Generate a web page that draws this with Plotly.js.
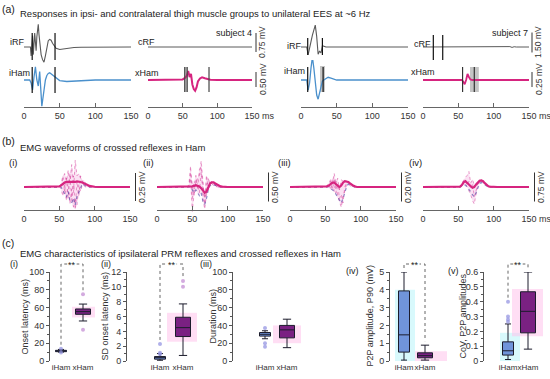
<!DOCTYPE html>
<html><head><meta charset="utf-8">
<script src="https://cdn.plot.ly/plotly-3.0.1.min.js"></script>
<style>html,body{margin:0;padding:0;background:#fff}#chart{width:550px;height:379px}</style>
</head><body><div id="chart"></div>
<script>
// ================= DATA =================
const TIME_TICKS = [0, 50, 100, 150];
const CATS = ['iHam', 'xHam'];

// (a) subject 4 (mV vs ms)
const s4_iRF_t = [0,5,9,10,11,12,13,14,15,16,17,18,19,20,21,22,24,26,28,30,32,34,36,38,40,42,45,50,55,60,70,80,100,120,150];
const s4_iRF_v = [0,0,0,-0.35,0.25,0.45,-0.3,0.15,0.55,0.2,-0.15,0.4,0.8,0.9,0.5,0.1,-0.3,-0.5,-0.6,-0.35,0.0,0.25,0.3,0.27,0.15,0.05,-0.05,-0.1,-0.08,-0.05,-0.02,-0.01,0,0,0];
const s4_iHam_t = [0,8,10,12,14,16,18,20,22,24,25,26,28,30,32,34,36,38,40,45,50,60,70,80,100,150];
const s4_iHam_v = [0,0,-0.1,-0.33,0.1,0.44,0.0,-0.2,0.28,-0.6,-0.87,-0.7,-0.3,0.0,0.15,0.22,0.24,0.2,0.15,0.05,-0.02,-0.05,-0.04,-0.02,0,0];
const s4_cRF_t = [0,150];
const s4_cRF_v = [0,0];
const s4_xHam_t = [0,40,50,54,56,58,60,62,64,66,68,70,72,75,78,82,86,90,100,150];
const s4_xHam_v = [0,0,0.02,0.08,0.15,0.3,0.1,0.2,-0.15,-0.3,-0.36,-0.25,-0.05,0.05,0.09,0.06,0.03,0.01,0,0];
const s4_iRF_marks = [11.5, 43.5];
const s4_iHam_marks = [11.5, 43.5];
const s4_xHam_band = [52.5, 57];
const s4_xHam_marks = [53, 56.5, 88];

// (a) subject 7
const s7_iRF_t = [0,8,10,12,14,16,18,20,22,24,26,28,30,32,35,150];
const s7_iRF_v = [0,0,-0.6,-0.2,0.4,0.9,1.4,1.65,0.8,-0.55,-0.3,-0.45,0.1,0.05,0,0];
const s7_iHam_t = [0,8,10,12,14,16,18,20,22,24,26,28,30,32,35,38,42,50,60,150];
const s7_iHam_v = [0,0,-0.17,-0.05,0.2,0.38,0.2,-0.05,-0.25,-0.32,-0.2,-0.08,-0.02,0,0.03,0.045,0.03,0,0,0];
const s7_cRF_t = [0,120,123,126,129,132,150];
const s7_cRF_v = [0,0,0.03,-0.03,0.02,0,0];
const s7_xHam_t = [0,50,55,57,59,61,63,65,67,70,150];
const s7_xHam_v = [0,0,0,-0.03,-0.07,0.0,0.1,0.05,0.01,0,0];
const s7_iRF_marks = [9.4, 30];
const s7_iHam_marks = [9.4, 31];
const s7_iHam_band = [26.6, 33.6];
const s7_cRF_marks = [14.6, 27.9];
const s7_xHam_marks = [56, 72.6];
const s7_xHam_band = [66.5, 79];

const aScaleVals = [0.75, 0.50, 1.50, 0.25];   // mV scale bars
const bScaleVals = [0.25, 0.50, 0.20, 0.75];

// (b) crossed reflex waveforms (mV)
const tB = [0,40,45,47.5,50,52.5,55,57.5,60,62.5,65,67.5,70,72.5,75,77.5,80,82.5,85,87.5,90,92.5,95,100,105,110,150];
const b1_mean = [0,0,0,0,0.005,0.015,0.03,0.04,0.045,0.045,0.04,0.04,0.04,0.045,0.05,0.05,0.045,0.04,0.035,0.025,0.018,0.01,0.005,0.002,0,0,0];
const b1_s1 = [0,0,0,0,0,0.02,0.08,0.12,0.05,0.15,0.02,0.2,-0.05,0.24,0.1,0.12,0.08,0.05,0.03,0.02,0.01,0,0,0,0,0,0];
const b1_s2 = [0,0,0,0,0.01,-0.02,-0.08,0.03,-0.12,0.06,-0.15,-0.02,-0.18,-0.1,-0.16,0.02,-0.04,0.02,0.01,0,0,0,0,0,0,0,0];
const b1_s3 = [0,0,0,0,0,0.03,0.1,-0.05,0.08,-0.1,0.12,-0.12,0.1,-0.2,0.05,-0.08,0.1,0.05,0.06,0.03,0.01,0,0,0,0,0,0];
const b1_s4 = [0,0,0,0,0,0,-0.03,-0.06,-0.09,-0.04,-0.12,-0.14,-0.1,-0.16,-0.08,-0.05,0,0.03,0.02,0.01,0,0,0,0,0,0,0];
const b2_mean = [0,0,0,0,0.01,0.02,0.03,0.02,0.01,-0.02,-0.06,-0.1,-0.08,0,0.06,0.08,0.08,0.06,0.04,0.02,0.01,0.005,0,0,0,0,0];
const b2_s1 = [0,0,0.02,0.36,-0.2,0.1,0.05,0.15,0.2,0.45,0.1,-0.3,0.05,0.1,0.08,0.06,0.04,0.02,0.01,0,0,0,0,0,0,0,0];
const b2_s2 = [0,0,0,0.15,-0.42,-0.1,0.2,-0.05,0.3,0.35,-0.2,-0.38,-0.1,0.15,0.05,0.1,0.06,0.03,0.01,0,0,0,0,0,0,0,0];
const b2_s3 = [0,0,0.01,0.25,0.05,-0.15,0.1,0.05,-0.1,0.25,0.05,-0.2,0.2,-0.05,0.1,0.05,0.02,0.01,0,0,0,0,0,0,0,0,0];
const b2_s4 = [0,0,0,0,-0.05,-0.1,-0.05,-0.1,-0.15,-0.1,-0.25,-0.3,-0.2,-0.05,0.02,0.05,0.04,0.02,0.01,0,0,0,0,0,0,0,0];
const b3_mean = [0,0,0,0,0,0.005,0.01,0.02,0.03,0.03,0.02,0.01,0,0.01,0.03,0.04,0.04,0.035,0.025,0.015,0.008,0.003,0,0,0,0,0];
const b3_s1 = [0,0,0,0,0,0.01,0.03,0.05,0.02,0.094,0.03,0.06,-0.02,0.05,0.04,0.05,0.04,0.03,0.02,0.01,0,0,0,0,0,0,0];
const b3_s2 = [0,0,0,0,0,0,0.02,-0.02,0.05,-0.03,0.04,-0.06,-0.1,-0.14,-0.06,-0.03,0.02,0.02,0.01,0,0,0,0,0,0,0,0];
const b3_s3 = [0,0,0,0,0,0.005,0.01,0.04,-0.02,0.06,-0.04,0.02,-0.08,-0.05,-0.11,0,0.03,0.03,0.02,0.01,0,0,0,0,0,0,0];
const b3_s4 = [0,0,0,0,0,0,0,-0.01,-0.02,-0.03,-0.05,-0.07,-0.09,-0.11,-0.08,-0.04,0,0.02,0.015,0.01,0,0,0,0,0,0,0];
const b4_mean = [0,0,0,0,0,0.01,0.05,0.12,0.15,0.1,0.06,0.02,-0.02,0,0.06,0.12,0.16,0.17,0.15,0.1,0.05,0.02,0.01,0,0,0,0];
const b4_s1 = [0,0,0,0,0,0.02,0.1,0.2,0.25,0.3,0.4,0.1,0.2,0.05,0.1,0.15,0.18,0.16,0.12,0.08,0.04,0.01,0,0,0,0,0];
const b4_s2 = [0,0,0,0,0,0,0.05,0.15,0.1,0,-0.1,-0.2,-0.35,-0.44,-0.2,0.05,0.12,0.15,0.12,0.08,0.03,0.01,0,0,0,0,0];
const b4_s3 = [0,0,0,0,0,0.01,0.08,0.12,0.2,0.05,0.15,-0.05,0.1,-0.25,-0.1,0.08,0.15,0.18,0.14,0.09,0.04,0.01,0,0,0,0,0];
const b4_s4 = [0,0,0,0,0,0,0.02,0.05,0.05,0,-0.05,-0.12,-0.2,-0.25,-0.15,-0.02,0.08,0.12,0.1,0.06,0.03,0.01,0,0,0,0,0];

// (c) box statistics [iHam, xHam]
const onsetQ1 = [10.5, 52.5], onsetMed = [11.3, 55.5], onsetQ3 = [12, 58.5], onsetLo = [10, 45], onsetHi = [13, 64];
const onsetOutI = [13.8, 9.6], onsetOutX = [75, 35];
const onsetShadeX = [49, 61];
const sdQ1 = [0.25, 3.3], sdMed = [0.45, 4.5], sdQ3 = [0.6, 5.9], sdLo = [0.1, 0.75], sdHi = [1.0, 7.7];
const sdOutI = [2.3, 1.1, 0.9], sdOutX = [10.8, 10.0];
const sdShadeX = [2.6, 6.5];
const durQ1 = [28, 26], durMed = [30, 35], durQ3 = [32, 40], durLo = [25, 15], durHi = [34, 47];
const durOutI = [37, 20, 16], durOutX = [];
const durShadeX = [20, 40];
const p2pQ1 = [0.5, 0.18], p2pMed = [1.47, 0.3], p2pQ3 = [3.94, 0.46], p2pLo = [0.05, 0.05], p2pHi = [5.0, 0.89];
const p2pOutI = [], p2pOutX = [];
const p2pShadeI = [0, 4.0], p2pShadeX = [0, 0.55];
const covQ1 = [0.04, 0.19], covMed = [0.069, 0.335], covQ3 = [0.129, 0.467], covLo = [0.01, 0.08], covHi = [0.25, 0.60];
const covOutI = [0.40, 0.30, 0.28, 0.265], covOutX = [];
const covShadeI = [0, 0.19], covShadeX = [0.167, 0.485];

// ================= LAYOUT HELPERS =================
const W = 550, H = 379;
const fx = p => p / W, fy = p => 1 - p / H;
const FONT = '"Liberation Sans", Arial, sans-serif';
const GRAY = '#5a5a5a', BLUE = '#4a90cc', MAG = '#d6247f', PURP = '#7a2182', PERI = '#7094da';
const traces = [], shapes = [], annotations = [];
const layout = {width: W, height: H, margin: {l:0, r:0, t:0, b:0, pad:0}, paper_bgcolor: '#fff',
  plot_bgcolor: 'rgba(0,0,0,0)', showlegend: false, font: {family: FONT, size: 9, color: '#333'},
  boxmode: 'overlay', shapes, annotations};
let nx = 0, ny = 0;
const xName = n => n === 1 ? 'xaxis' : 'xaxis' + n, yName = n => n === 1 ? 'yaxis' : 'yaxis' + n;
const xId = n => n === 1 ? 'x' : 'x' + n, yId = n => n === 1 ? 'y' : 'y' + n;

function label(x, y, text, o = {}) {
  annotations.push({xref:'paper', yref:'paper', x: fx(x), y: fy(y), text, showarrow:false,
    xanchor: o.xanchor || 'left', yanchor: o.yanchor || 'middle', textangle: o.angle || 0,
    bgcolor: o.bg || 'rgba(0,0,0,0)', borderpad: 0,
    font: {family: FONT, size: o.size || 9.5, color: o.color || '#222'}});
}
function timeAxis(left, right, linePx, ms) {
  nx++;
  layout[xName(nx)] = {domain: [fx(left), fx(right)], range: [0, 150], anchor: 'free', position: fy(linePx),
    showline: true, linecolor: '#666', linewidth: 1, ticks: 'inside', ticklen: 4, tickcolor: '#666',
    tickmode: 'array', tickvals: TIME_TICKS, ticktext: TIME_TICKS.map(String), tickangle: 0,
    tickfont: {family: FONT, size: 9, color: '#333'}, showgrid: false, zeroline: false, fixedrange: true};
  if (ms) label(right + 9, linePx + 9, 'ms', {size: 9, color: '#333'});
  return xId(nx);
}
function waveRow(xid, top, bottom, base, ppu) {
  ny++;
  layout[yName(ny)] = {domain: [fy(bottom), fy(top)], range: [-(bottom - base) / ppu, (base - top) / ppu],
    visible: false, anchor: xid, showgrid: false, zeroline: false, fixedrange: true};
  return yId(ny);
}
function wave(xid, yid, t, v, color, width, dash) {
  traces.push({type:'scatter', mode:'lines', x: t, y: v, xaxis: xid, yaxis: yid,
    line: {color, width, dash: dash || 'solid', shape: 'linear'}, hoverinfo: 'skip'});
}
function marks(xid, times, top, bottom, color, width) {
  times.forEach(t => shapes.push({type:'line', xref: xid, yref:'paper', x0: t, x1: t, y0: fy(bottom), y1: fy(top),
    line: {color: color || '#111', width: width || 1.2}}));
}
function band(xid, se, top, bottom) {
  shapes.push({type:'rect', xref: xid, yref:'paper', x0: se[0], x1: se[1], y0: fy(bottom), y1: fy(top),
    fillcolor: 'rgba(150,150,150,0.55)', line: {width: 0}, layer: 'below'});
}
function scaleBar(xPx, center, value, ppu, size) {
  const half = value * ppu / 2;
  shapes.push({type:'line', xref:'paper', yref:'paper', x0: fx(xPx), x1: fx(xPx), y0: fy(center + half), y1: fy(center - half),
    line: {color: '#333', width: 1}});
  label(xPx + 6.5, center, value.toFixed(2) + ' mV', {xanchor:'center', angle: -90, size: size || 8.5, color:'#333'});
}

// ================= PANEL (a) =================
label(1, 9, '(a)', {size: 10.5});
label(19, 13, 'Responses in ipsi- and contralateral thigh muscle groups to unilateral EES at ~6 Hz', {size: 9.5});
const RF_TOP = 14, RF_BOT = 66, RF_BASE = 47, HAM_TOP = 60, HAM_BOT = 110, HAM_BASE = 80, A_AXIS = 107;
const s4ppu = [25.3, 30], s7ppu = [13.3, 60];
// subject 4 ipsi
let xa = timeAxis(24, 131, A_AXIS, false);
let ya = waveRow(xa, RF_TOP, RF_BOT, RF_BASE, s4ppu[0]), yb = waveRow(xa, HAM_TOP, HAM_BOT, HAM_BASE, s4ppu[1]);
wave(xa, ya, s4_iRF_t, s4_iRF_v, GRAY, 1.1);
wave(xa, yb, s4_iHam_t, s4_iHam_v, BLUE, 1.3);
marks(xa, s4_iRF_marks, 33, 60); marks(xa, s4_iHam_marks, 67, 93);
// subject 4 contra
let xb = timeAxis(148, 252, A_AXIS, true);
let yc = waveRow(xb, RF_TOP, RF_BOT, RF_BASE, s4ppu[0]), yd = waveRow(xb, HAM_TOP, HAM_BOT, HAM_BASE, s4ppu[1]);
wave(xb, yc, s4_cRF_t, s4_cRF_v, GRAY, 1);
band(xb, s4_xHam_band, 67, 92);
wave(xb, yd, s4_xHam_t, s4_xHam_v, MAG, 2);
marks(xb, s4_xHam_marks, 67, 92, '#444', 1.2);
scaleBar(256, 42.5, aScaleVals[0], s4ppu[0]); scaleBar(256, 79.5, aScaleVals[1], s4ppu[1]);
label(9, 42, 'iRF', {size: 9}); label(8, 73, 'iHam', {size: 9}); label(137, 42, 'cRF', {size: 9}); label(134, 73, 'xHam', {size: 9});
label(253, 33, 'subject 4', {xanchor: 'right', size: 9});
// subject 7 ipsi
let xc = timeAxis(301, 408, A_AXIS, false);
let ye = waveRow(xc, RF_TOP, RF_BOT, RF_BASE, s7ppu[0]), yf = waveRow(xc, HAM_TOP, HAM_BOT, HAM_BASE, s7ppu[1]);
wave(xc, ye, s7_iRF_t, s7_iRF_v, GRAY, 1.1);
band(xc, s7_iHam_band, 66, 92);
wave(xc, yf, s7_iHam_t, s7_iHam_v, BLUE, 1.3);
marks(xc, s7_iRF_marks, 38, 55); marks(xc, s7_iHam_marks, 67, 92);
// subject 7 contra
let xd = timeAxis(423, 529, A_AXIS, true);
let yg = waveRow(xd, RF_TOP, RF_BOT, RF_BASE, s7ppu[0]), yh = waveRow(xd, HAM_TOP, HAM_BOT, HAM_BASE, s7ppu[1]);
wave(xd, yg, s7_cRF_t, s7_cRF_v, GRAY, 1);
band(xd, s7_xHam_band, 67, 92);
wave(xd, yh, s7_xHam_t, s7_xHam_v, MAG, 1.8);
marks(xd, s7_cRF_marks, 35, 60); marks(xd, s7_xHam_marks, 67, 92, '#333', 1.2);
scaleBar(532, 42.5, aScaleVals[2], s7ppu[0]); scaleBar(532, 79.5, aScaleVals[3], s7ppu[1]);
label(286, 46, 'iRF', {size: 9}); label(283, 71, 'iHam', {size: 9}); label(413, 44, 'cRF', {size: 9}); label(410, 72, 'xHam', {size: 9});
label(529, 33, 'subject 7', {xanchor: 'right', size: 9});

// ================= PANEL (b) =================
label(1, 141, '(b)', {size: 10.5});
label(19, 147, 'EMG waveforms of crossed reflexes in Ham', {size: 9.5});
const B_AXIS = 210, B_TOP = 148, B_BOT = 216, B_BASE = 187;
const bPanels = [
  {left: 24, right: 130, ppu: 112, sweeps: [b1_s1, b1_s2, b1_s3, b1_s4], mean: b1_mean, lab: '(i)', labX: 8, ms: false},
  {left: 157, right: 263, ppu: 58, sweeps: [b2_s1, b2_s2, b2_s3, b2_s4], mean: b2_mean, lab: '(ii)', labX: 142, ms: false},
  {left: 290, right: 396, ppu: 145, sweeps: [b3_s1, b3_s2, b3_s3, b3_s4], mean: b3_mean, lab: '(iii)', labX: 277, ms: false},
  {left: 423, right: 529, ppu: 38.7, sweeps: [b4_s1, b4_s2, b4_s3, b4_s4], mean: b4_mean, lab: '(iv)', labX: 408, ms: true}
];
bPanels.forEach((p, i) => {
  const xi = timeAxis(p.left, p.right, B_AXIS, p.ms);
  const yi = waveRow(xi, B_TOP, B_BOT, B_BASE, p.ppu);
  const all = p.sweeps.concat([p.mean]);
  const lo = tB.map((_, k) => Math.min(...all.map(s => s[k])));
  const hi = tB.map((_, k) => Math.max(...all.map(s => s[k])));
  traces.push({type:'scatter', mode:'lines', x: tB, y: lo, xaxis: xi, yaxis: yi, line: {width: 0}, hoverinfo:'skip'});
  traces.push({type:'scatter', mode:'lines', x: tB, y: hi, xaxis: xi, yaxis: yi, line: {width: 0}, fill: 'tonexty',
    fillcolor: 'rgba(244,180,225,0.4)', hoverinfo:'skip'});
  p.sweeps.slice(0, 3).forEach(s => wave(xi, yi, tB, s, 'rgba(205,40,140,0.55)', 0.8, 'dot'));
  wave(xi, yi, tB, p.sweeps[3], 'rgba(70,60,160,0.6)', 1.2, 'dot');
  wave(xi, yi, tB, p.mean, MAG, 2.2);
  scaleBar(p.right + 5.5, B_BASE, bScaleVals[i], p.ppu);
  label(p.labX, 162, p.lab, {size: 9.5});
});

// ================= PANEL (c) =================
label(1, 243, '(c)', {size: 10.5});
label(19, 253, 'EMG characteristics of ipsilateral PRM reflexes and crossed reflexes in Ham', {size: 9.5});
const C_TOP = 272, C_BOT = 361, BR_Y = 264;
const cPanels = [
  {ax: 50, iPx: 61, xPx: 83, right: 100, yMax: 100, dt: 20, mn: 10, q1: onsetQ1, med: onsetMed, q3: onsetQ3, lo: onsetLo, hi: onsetHi,
   outI: onsetOutI, outX: onsetOutX, shI: null, shX: onsetShadeX, shIpx: null, shXpx: [72, 95],
   title: 'Onset latency (ms)', titleX: 24, lab: '(i)', labXY: [9, 264], sig: true},
  {ax: 127, iPx: 160, xPx: 183, right: 200, yMax: 12, dt: 2, mn: 1, q1: sdQ1, med: sdMed, q3: sdQ3, lo: sdLo, hi: sdHi,
   outI: sdOutI, outX: sdOutX, shI: null, shX: sdShadeX, shIpx: null, shXpx: [167, 197],
   title: 'SD onset latency (ms)', titleX: 104, lab: '(ii)', labXY: [100, 264], sig: true},
  {ax: 233, iPx: 265, xPx: 287, right: 302, yMax: 100, dt: 20, mn: 10, q1: durQ1, med: durMed, q3: durQ3, lo: durLo, hi: durHi,
   outI: durOutI, outX: durOutX, shI: null, shX: durShadeX, shIpx: null, shXpx: [273, 301],
   title: 'Duration (ms)', titleX: 212, lab: '(iii)', labXY: [199, 264], sig: false},
  {ax: 390, iPx: 404, xPx: 425, right: 450, yMax: 5, dt: 1, mn: 0.5, q1: p2pQ1, med: p2pMed, q3: p2pQ3, lo: p2pLo, hi: p2pHi,
   outI: p2pOutI, outX: p2pOutX, shI: p2pShadeI, shX: p2pShadeX, shIpx: [395, 415], shXpx: [415, 447],
   title: 'P2P amplitude, P90 (mV)', titleX: 369, lab: '(iv)', labXY: [345, 271], sig: true},
  {ax: 484, iPx: 508, xPx: 528, right: 548, yMax: 0.6, dt: 0.1, mn: 0.05, q1: covQ1, med: covMed, q3: covQ3, lo: covLo, hi: covHi,
   outI: covOutI, outX: covOutX, shI: covShadeI, shX: covShadeX, shIpx: [500, 520], shXpx: [512, 543],
   title: 'CoV, P2P amplitudes', titleX: 462, lab: '(v)', labXY: [447, 271], sig: true}
];
cPanels.forEach(p => {
  nx++; ny++;
  const xid = xId(nx), yid = yId(ny);
  const unit = p.xPx - p.iPx;
  const toX = px => (px - p.iPx) / unit;
  const vpx = v => C_BOT - (v / p.yMax) * (C_BOT - C_TOP);
  layout[xName(nx)] = {domain: [fx(p.ax), fx(p.right)], range: [toX(p.ax), toX(p.right)], anchor: yid,
    showline: false, ticks: '', tickmode: 'array', tickvals: [0, 1], ticktext: CATS, tickangle: 0, showgrid: false, zeroline: false,
    tickfont: {family: FONT, size: 8, color: '#333'}, fixedrange: true};
  layout[yName(ny)] = {domain: [fy(C_BOT), fy(C_TOP)], range: [0, p.yMax * 1.0005], anchor: xid,
    showline: true, linecolor: '#555', linewidth: 1, ticks: 'outside', ticklen: 3, tickcolor: '#555',
    tickmode: 'linear', tick0: 0, dtick: p.dt, showgrid: false, zeroline: false,
    minor: {tickmode: 'linear', tick0: 0, dtick: p.mn, ticks: 'outside', ticklen: 2, tickcolor: '#555', showgrid: false},
    tickfont: {family: FONT, size: 9, color: '#333'}, fixedrange: true};
  // background shades
  [[p.shI, p.shIpx, 'rgba(190,245,250,0.6)'], [p.shX, p.shXpx, 'rgba(255,195,235,0.55)']].forEach(([v, px, c]) => {
    if (!v) return;
    shapes.push({type: 'rect', xref: xid, yref: yid, x0: toX(px[0]), x1: toX(px[1]), y0: v[0], y1: v[1],
      fillcolor: c, line: {width: 0}, layer: 'below'});
  });
  // boxes
  [[0, PERI, 11], [1, PURP, 15]].forEach(([k, col, wpx]) => {
    traces.push({type: 'box', x: [k], q1: [p.q1[k]], median: [p.med[k]], q3: [p.q3[k]],
      lowerfence: [p.lo[k]], upperfence: [p.hi[k]], xaxis: xid, yaxis: yid, width: wpx / unit,
      fillcolor: col, line: {color: '#1c1c2c', width: 1}, whiskerwidth: 0.55, boxpoints: false, hoverinfo: 'skip'});
  });
  if (p.outI.length) traces.push({type: 'scatter', mode: 'markers', x: p.outI.map(() => 0), y: p.outI, xaxis: xid, yaxis: yid,
    marker: {size: 4, color: 'rgba(150,150,225,0.75)'}, hoverinfo: 'skip', cliponaxis: false});
  if (p.outX.length) traces.push({type: 'scatter', mode: 'markers', x: p.outX.map(() => 1), y: p.outX, xaxis: xid, yaxis: yid,
    marker: {size: 4, color: 'rgba(200,150,215,0.8)'}, hoverinfo: 'skip', cliponaxis: false});
  // axis title & panel label
  label(p.titleX, (C_TOP + C_BOT) / 2, p.title, {xanchor: 'center', angle: -90, size: 9, color: '#333'});
  label(p.labXY[0], p.labXY[1], p.lab, {size: 9});
  // significance bracket
  if (p.sig) {
    const topI = Math.max(p.hi[0], ...p.outI), topX = Math.max(p.hi[1], ...p.outX);
    const xl = p.iPx, xr = p.xPx, legL = vpx(topI) - 4, legR = vpx(topX) - 4;
    shapes.push({type: 'path', xref: 'paper', yref: 'paper',
      path: `M ${fx(xl)},${fy(legL)} L ${fx(xl)},${fy(BR_Y)} L ${fx(xr)},${fy(BR_Y)} L ${fx(xr)},${fy(legR)}`,
      line: {color: '#555', width: 0.9, dash: 'dot'}});
    label((xl + xr) / 2, BR_Y + 0.5, '**', {xanchor: 'center', size: 9, bg: '#fff', color: '#222'});
  }
});

Plotly.newPlot('chart', traces, layout, {staticPlot: true, displayModeBar: false});
</script>
</body></html>
